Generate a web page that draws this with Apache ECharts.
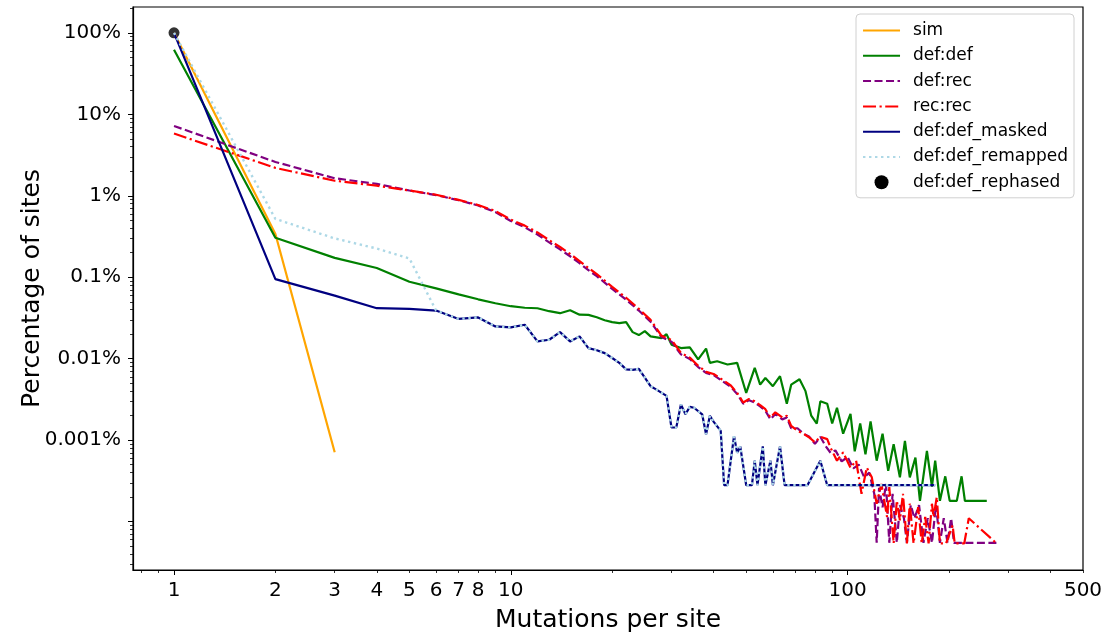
<!DOCTYPE html>
<html>
<head>
<meta charset="utf-8">
<script src="https://cdn.jsdelivr.net/npm/echarts@6/dist/echarts.min.js"></script>
<style>
html,body{margin:0;padding:0;background:#fff;}
#c{width:1107px;height:638px;}
</style>
</head>
<body>
<div id="c"></div>
<script>
// ---- data (percent of sites vs mutations per site) ----
const seriesNames = ['sim','def:def','def:rec','rec:rec','def:def_masked','def:def_remapped','def:def_rephased'];

const simData = [[1,100],[2,0.34],[3,0.00071]];

const defDefData = [[1,62],[2,0.306],[3,0.173],[4,0.130],[5,0.088],[6,0.073],[7,0.0617],[8,0.0536],[9,0.0479],[10,0.0441],
[11,0.0422],[12,0.0416],[13,0.0383],[14,0.0362],[15,0.0394],[16,0.0347],[17,0.0345],[18,0.0323],[19,0.0297],[20,0.0281],
[21,0.0274],[22,0.0281],[23,0.0212],[24,0.0195],[25,0.0218],[26,0.0188],[28,0.0179],[29,0.0200],[30,0.0149],[32,0.0135],
[34,0.0138],[36,0.0098],[38,0.0133],[39,0.0089],[41,0.0093],[44,0.0085],[47,0.0089],[50,0.0038],[53,0.0077],[55,0.0048],
[57,0.0058],[60,0.0046],[63,0.0061],[66,0.0028],[68,0.0048],[72,0.0056],[75,0.0040],[78,0.0020],[81,0.0016],[83,0.0030],
[87,0.0028],[90,0.0016],[93,0.0025],[97,0.0012],[102,0.0021],[105,0.00073],[109,0.0016],[113,0.00067],[117,0.0017],[122,0.00056],
[127,0.0012],[132,0.00042],[137,0.00089],[143,0.00035],[148,0.00098],[153,0.00035],[159,0.00061],[164,0.00018],[172,0.00074],[178,0.00027],
[182,0.00056],[188,0.00018],[195,0.00036],[201,0.00018],[211,0.00018],[218,0.00036],[223,0.00018],[259,0.00018]];

const defRecData = [[1,7.2],[2,2.6],[3,1.64],[4,1.40],[5,1.16],[6,1.02],[7,0.88],[8,0.76],[9,0.63],[10,0.49],
[11,0.41],[12,0.335],[13,0.268],[14,0.22],[15,0.181],[16,0.149],[17,0.122],[18,0.103],[19,0.086],[20,0.072],
[22,0.053],[24,0.039],[26,0.0285],[28,0.0185],[30,0.0162],[32,0.0113],[34,0.0099],[36,0.0079],[38,0.0067],[40,0.0063],
[42,0.0055],[45,0.0045],[47,0.0037],[49,0.0028],[51,0.0031],[53,0.0029],[55,0.0026],[57,0.0023],[59,0.0018],[61,0.0021],
[64,0.0018],[66,0.0019],[68,0.0014],[71,0.0014],[74,0.0012],[77,0.0011],[80,0.0009],[83,0.0011],[86,0.00085],[89,0.0007],
[92,0.00075],[96,0.00055],[100,0.00062],[104,0.00045],[108,0.0005],[112,0.00035],[116,0.0004],[120,0.00022],[122,0.000055],[124,0.00026],
[127,0.00015],[130,0.00029],[133,0.000055],[136,0.00022],[140,0.000055],[143,0.00016],[147,0.00011],[150,0.000055],[154,0.00016],[158,0.00011],
[163,0.00016],[168,0.000055],[173,0.00011],[178,0.000055],[183,0.00016],[188,0.000055],[193,0.00011],[198,0.000055],[203,0.00011],[207,0.000055],
[277,0.000055]];

const recRecData = [[1,5.8],[2,2.2],[3,1.53],[4,1.33],[5,1.16],[6,1.03],[7,0.89],[8,0.77],[9,0.65],[10,0.51],
[11,0.43],[12,0.355],[13,0.285],[14,0.235],[15,0.193],[16,0.158],[17,0.13],[18,0.109],[19,0.091],[20,0.076],
[22,0.056],[24,0.041],[26,0.030],[28,0.0192],[30,0.017],[32,0.0118],[34,0.0103],[36,0.0082],[38,0.0069],[40,0.0065],
[42,0.0057],[45,0.0047],[47,0.0038],[49,0.0029],[51,0.0032],[53,0.0030],[55,0.0027],[57,0.0024],[59,0.0019],[61,0.0022],
[64,0.0019],[66,0.0020],[68,0.0015],[71,0.0013],[74,0.0012],[77,0.00108],[80,0.00094],[83,0.0011],[87,0.00103],[89,0.00081],
[91,0.00067],[93,0.00056],[97,0.00071],[102,0.00046],[106,0.00056],[110,0.00022],[114,0.00046],[118,0.00035],[122,0.000166],[126,0.00029],
[131,0.000114],[133,0.000265],[137,0.000054],[140,0.000182],[143,0.000104],[146,0.00022],[150,0.000054],[153,0.000166],[157,0.000054],[162,0.000151],
[166,0.000054],[170,0.000114],[174,0.000054],[178,0.000166],[180,0.000114],[184,0.0002],[188,0.000054],[196,0.000054],[205,0.00009],[208,0.000054],
[222,0.000054],[229,0.00011],[277,0.000054]];

const maskedData = [[1,100],[2,0.0948],[3,0.0594],[4,0.0417],[5,0.0410],[6,0.0390],[7,0.0308],[8,0.0321],[9,0.0249],[10,0.0242],
[11,0.0261],[12,0.0163],[13,0.0171],[14,0.0212],[15,0.0163],[16,0.0188],[17,0.0135],[18,0.0127],[19,0.0117],[20,0.0102],
[21,0.0089],[22,0.0074],[23,0.0073],[24,0.0075],[26,0.0046],[27,0.0042],[29,0.0035],[30,0.00143],[31,0.00143],[32,0.00275],
[33,0.00208],[34,0.00256],[35,0.0025],[37,0.00208],[38,0.00118],[39,0.00199],[40,0.00169],[42,0.0013],[43,0.00028],[44,0.00028],
[46,0.00112],[47,0.0007],[48,0.00084],[50,0.00028],[52,0.00028],[53,0.00056],[54,0.00028],[56,0.00084],[57,0.00028],[59,0.00056],
[60,0.00028],[63,0.00084],[65,0.00028],[76,0.00028],[83,0.00056],[87,0.00028],[182,0.00028]];

const remappedData = [[1,100],[2,0.52],[3,0.30],[4,0.225],[5,0.17],[6,0.0390],[7,0.0308],[8,0.0321],[9,0.0249],[10,0.0242],
[11,0.0261],[12,0.0163],[13,0.0171],[14,0.0212],[15,0.0163],[16,0.0188],[17,0.0135],[18,0.0127],[19,0.0117],[20,0.0102],
[21,0.0089],[22,0.0074],[23,0.0073],[24,0.0075],[26,0.0046],[27,0.0042],[29,0.0035],[30,0.00143],[31,0.00143],[32,0.00275],
[33,0.00208],[34,0.00256],[35,0.0025],[37,0.00208],[38,0.00118],[39,0.00199],[40,0.00169],[42,0.0013],[43,0.00028],[44,0.00028],
[46,0.00112],[47,0.0007],[48,0.00084],[50,0.00028],[52,0.00028],[53,0.00056],[54,0.00028],[56,0.00084],[57,0.00028],[59,0.00056],
[60,0.00028],[63,0.00084],[65,0.00028],[76,0.00028],[83,0.00056],[87,0.00028],[182,0.00028]];

const rephasedData = [[1,100]];

// ---- ticks ----
const xMajorTicks = [1,10,100];
const xLabelTicks = [1,2,3,4,5,6,7,8,10,100,500];
const xMinorTicks = [0.8,0.9,2,3,4,5,6,7,8,9,20,30,40,50,60,70,80,90,200,300,400,500];
const yMajorTicks = [100,10,1,0.1,0.01,0.001,0.0001];
const yLabelTicks = [100,10,1,0.1,0.01,0.001];
const yMinorTicks = [3e-5,4e-5,5e-5,6e-5,7e-5,8e-5,9e-5,
  2e-4,3e-4,4e-4,5e-4,6e-4,7e-4,8e-4,9e-4,
  0.002,0.003,0.004,0.005,0.006,0.007,0.008,0.009,
  0.02,0.03,0.04,0.05,0.06,0.07,0.08,0.09,
  0.2,0.3,0.4,0.5,0.6,0.7,0.8,0.9,
  2,3,4,5,6,7,8,9,20,30,40,50,60,70,80,90,200];

const xMin = 0.7555, xMax = 500;
const yMin = 2.55e-5, yMax = 207.5;

const FONT = 'DejaVu Sans';
const chart = echarts.init(document.getElementById('c'), null, {renderer:'canvas'});

function fmtPct(v){ return String(Number(Number(v).toPrecision(6))) + '%'; }
function fmtNum(v){ return String(Number(Number(v).toPrecision(6))); }

const axisBase = {type:'log', logBase:10, splitLine:{show:false}, minorTick:{show:false}, minorSplitLine:{show:false}};
const LW = 2.2;

const option = {
  animation:false,
  backgroundColor:'#fff',
  grid:{left:133, right:24, top:7, bottom:65, show:true, borderColor:'#000', borderWidth:1.2, backgroundColor:'transparent'},
  legend:{
    orient:'vertical', right:33, top:14,
    backgroundColor:'#fff', borderColor:'#d0d0d0', borderWidth:1, borderRadius:4,
    padding:[8,6,7,6],
    itemWidth:37, itemHeight:14, itemGap:8.3,
    itemStyle:{opacity:0},
    textStyle:{fontFamily:FONT, fontSize:17, color:'#000', lineHeight:17, padding:[0,0,0,8]},
    data:[
      {name:'sim'},{name:'def:def'},{name:'def:rec'},{name:'rec:rec'},
      {name:'def:def_masked'},{name:'def:def_remapped'},
      {name:'def:def_rephased', icon:'circle', itemStyle:{opacity:1, color:'#000'}}
    ]
  },
  xAxis:[
    Object.assign({}, axisBase, {
      min:xMin, max:xMax, position:'bottom',
      name:'Mutations per site', nameLocation:'middle', nameGap:38,
      nameTextStyle:{fontFamily:FONT, fontSize:25, color:'#000'},
      axisLine:{show:true, lineStyle:{color:'#000', width:1.2}},
      axisTick:{show:true, length:5, lineStyle:{color:'#000', width:1}, customValues:xMajorTicks},
      axisLabel:{show:true, fontFamily:FONT, fontSize:20, color:'#000', margin:11, customValues:xLabelTicks, formatter:fmtNum}
    }),
    Object.assign({}, axisBase, {
      min:xMin, max:xMax, position:'bottom',
      axisLine:{show:false},
      axisTick:{show:true, length:3, lineStyle:{color:'#000', width:0.8}, customValues:xMinorTicks},
      axisLabel:{show:false}
    })
  ],
  yAxis:[
    Object.assign({}, axisBase, {
      min:yMin, max:yMax, position:'left',
      name:'Percentage of sites', nameLocation:'middle', nameGap:88, nameMoveOverlap:false,
      nameTextStyle:{fontFamily:FONT, fontSize:25, color:'#000'},
      axisLine:{show:true, lineStyle:{color:'#000', width:1.2}},
      axisTick:{show:true, length:5, lineStyle:{color:'#000', width:1}, customValues:yMajorTicks},
      axisLabel:{show:true, fontFamily:FONT, fontSize:20, color:'#000', margin:12, customValues:yLabelTicks, formatter:fmtPct}
    }),
    Object.assign({}, axisBase, {
      min:yMin, max:yMax, position:'left',
      axisLine:{show:false},
      axisTick:{show:true, length:3, lineStyle:{color:'#000', width:0.8}, customValues:yMinorTicks},
      axisLabel:{show:false}
    })
  ],
  series:[
    {name:'sim', type:'line', data:simData, symbol:'none', showSymbol:false,
     lineStyle:{color:'#FFA500', width:LW}, itemStyle:{color:'#FFA500'}},
    {name:'def:def', type:'line', data:defDefData, symbol:'none', showSymbol:false,
     lineStyle:{color:'#008000', width:LW}, itemStyle:{color:'#008000'}},
    {name:'def:rec', type:'line', data:defRecData, symbol:'none', showSymbol:false,
     lineStyle:{color:'#800080', width:LW, type:[8,3.5]}, itemStyle:{color:'#800080'}},
    {name:'rec:rec', type:'line', data:recRecData, symbol:'none', showSymbol:false,
     lineStyle:{color:'#FF0000', width:LW, type:[13,3.5,2.2,3.5]}, itemStyle:{color:'#FF0000'}},
    {name:'def:def_masked', type:'line', data:maskedData, symbol:'none', showSymbol:false,
     lineStyle:{color:'#000080', width:LW}, itemStyle:{color:'#000080'}},
    {name:'def:def_remapped', type:'line', data:remappedData, symbol:'none', showSymbol:false,
     lineStyle:{color:'#ADD8E6', width:2.4, type:[2.4,3.6]}, itemStyle:{color:'#ADD8E6'}},
    {name:'def:def_rephased', type:'scatter', data:rephasedData, symbol:'circle', symbolSize:11,
     itemStyle:{color:'#000'}}
  ]
};
chart.setOption(option);
</script>
</body>
</html>
